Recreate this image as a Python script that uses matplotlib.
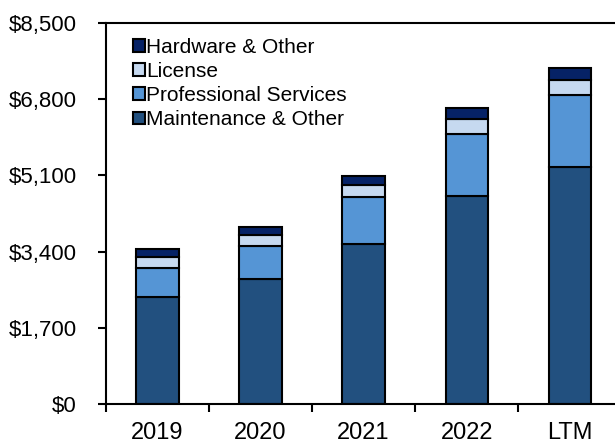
import numpy as np
import matplotlib.pyplot as plt
from matplotlib.ticker import FixedLocator, FuncFormatter

plt.rcParams['font.family'] = ['Liberation Sans', 'DejaVu Sans']

years = ['2019', '2020', '2021', '2022', 'LTM']
maintenance = [2379, 2787, 3567, 4638, 5277]
prof_services = [660, 736, 1041, 1389, 1620]
license_ = [232, 238, 282, 327, 343]
hardware = [185, 192, 194, 246, 267]

series = [('Maintenance & Other', maintenance, '#22507F'),
          ('Professional Services', prof_services, '#5595D5'),
          ('License', license_, '#C6D9F0'),
          ('Hardware & Other', hardware, '#062266')]

fig = plt.figure(figsize=(6.15, 4.43), dpi=100)
ax = fig.add_axes([0.1724, 0.088, 0.8276, 0.86])

x = np.arange(len(years))
bottom = np.zeros(len(years))
handles = []
for name, vals, col in series:
    b = ax.bar(x, vals, 0.41, bottom=bottom, color=col, edgecolor='black',
               linewidth=1.5, label=name)
    handles.append(b)
    bottom += np.array(vals)

ax.set_ylim(0, 8500)
ax.set_xlim(-0.5, 4.44)
ax.set_yticks(np.arange(0, 8501, 1700))
ax.yaxis.set_major_formatter(FuncFormatter(lambda v, p: '${:,.0f}'.format(v)))
ax.set_xticks(x)
ax.set_xticklabels(years)
ax.xaxis.set_minor_locator(FixedLocator(np.arange(-0.5, 4.6, 1)))
ax.tick_params(axis='x', which='major', length=0, labelsize=17, pad=13)
ax.tick_params(axis='x', which='minor', length=6, width=1.5)
ax.tick_params(axis='y', length=6, width=1.5, labelsize=16, pad=15)

ax.spines['right'].set_visible(False)
for s in ['left', 'top', 'bottom']:
    ax.spines[s].set_linewidth(1.5)

ax.legend(handles[::-1], [s[0] for s in series][::-1], loc='upper left',
          bbox_to_anchor=(0.025, 1.0), frameon=False, fontsize=15,
          handlelength=0.55, handleheight=0.55, handletextpad=0.05,
          labelspacing=0.25, borderaxespad=0.3)

plt.savefig('out.png', dpi=100)
